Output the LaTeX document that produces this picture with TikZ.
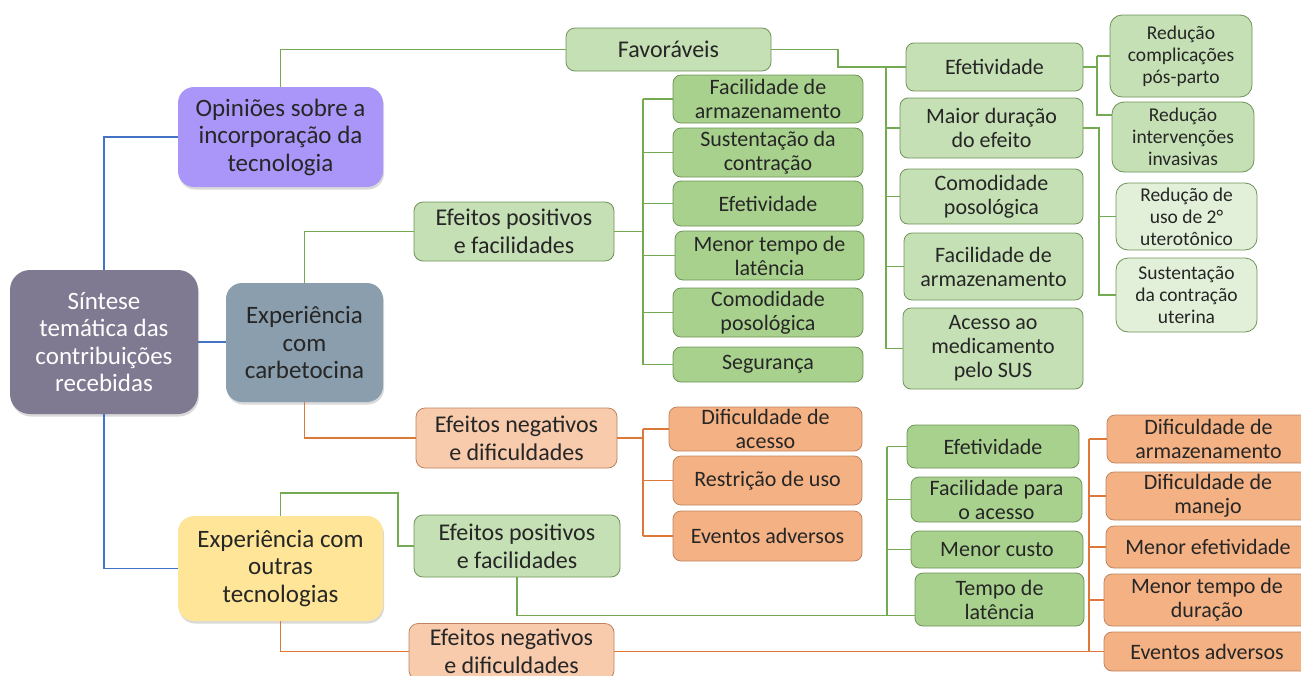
\documentclass[tikz,border=0pt]{standalone}
\usepackage{fontspec}
\setmainfont{Carlito}
\usepackage{xcolor}
\usepackage{tikz}
\usetikzlibrary{shadows}

\definecolor{rootfill}{HTML}{7F7A91}
\definecolor{opinfill}{HTML}{AA96F9}
\definecolor{carbfill}{HTML}{8A9EAD}
\definecolor{outrfill}{HTML}{FFE597}
\definecolor{lgreen}{HTML}{C5E0B4}
\definecolor{mgreen}{HTML}{A9D18E}
\definecolor{pgreen}{HTML}{E2F0D9}
\definecolor{gborder}{HTML}{6E9257}
\definecolor{lorange}{HTML}{F8CBAD}
\definecolor{morange}{HTML}{F4B183}
\definecolor{oborder}{HTML}{BE8460}
\definecolor{bline}{HTML}{4472C4}
\definecolor{gline}{HTML}{74AA52}
\definecolor{oline}{HTML}{DC7838}
\definecolor{txt}{HTML}{262626}

\tikzset{
	base/.style={align=center, inner sep=0pt, text=txt},
	topbox/.style={base, rounded corners=16pt, font=\fontsize{25}{27.5}\selectfont,
		drop shadow={opacity=0.3, shadow xshift=1pt, shadow yshift=-2.5pt}},
	midbox/.style={base, line width=0.8pt, rounded corners=9pt, font=\fontsize{24}{28}\selectfont},
	leafbox/.style={base, line width=0.8pt, rounded corners=8pt, font=\fontsize{22}{24}\selectfont},
	tipbox/.style={base, draw=gborder, line width=0.8pt, rounded corners=12pt, font=\fontsize{19.5}{22}\selectfont},
	gleaf/.style={leafbox, fill=mgreen, draw=gborder},
	oleaf/.style={leafbox, fill=morange, draw=oborder},
	wire/.style={line width=1.3pt, draw=#1},
}

\begin{document}
\begin{tikzpicture}[x=1pt, y=-1pt]
	\useasboundingbox (0,0) rectangle (1301,675);
	\clip (0,0) rectangle (1301,675);

	% main branches
	\node[topbox, fill=rootfill, text=white, rounded corners=20pt, minimum width=188pt, minimum height=144pt] (root) at (104,342) {Síntese\\temática das\\contribuições\\recebidas};
	\node[topbox, fill=opinfill, minimum width=205pt, minimum height=100pt] (opin) at (280.5,137) {Opiniões sobre a\\incorporação da\\tecnologia};
	\node[topbox, fill=carbfill, minimum width=157pt, minimum height=119pt] (carb) at (304.5,342.5) {Experiência\\com\\carbetocina};
	\node[topbox, fill=outrfill, minimum width=205pt, minimum height=105pt] (outr) at (280.5,568.5) {Experiência com\\outras\\tecnologias};

	% opinioes
	\node[midbox, fill=lgreen, draw=gborder, minimum width=205pt, minimum height=43pt] (fav) at (668.5,49.5) {Favoráveis};
	\node[leafbox, fill=lgreen, draw=gborder, minimum width=177pt, minimum height=48pt] (fav1) at (994.5,67) {Efetividade};
	\node[leafbox, fill=lgreen, draw=gborder, minimum width=183pt, minimum height=60pt] (fav2) at (991.5,128) {Maior duração\\do efeito};
	\node[leafbox, fill=lgreen, draw=gborder, minimum width=183pt, minimum height=55pt] (fav3) at (991.5,196.5) {Comodidade\\posológica};
	\node[leafbox, fill=lgreen, draw=gborder, minimum width=179pt, minimum height=67pt] (fav4) at (993.5,266.5) {Facilidade de\\armazenamento};
	\node[leafbox, fill=lgreen, draw=gborder, minimum width=180pt, minimum height=81pt] (fav5) at (993,348.5) {Acesso ao\\medicamento\\pelo SUS};
	\node[tipbox, fill=lgreen, minimum width=142pt, minimum height=82pt] (eff1) at (1181,56) {Redução\\complicações\\pós-parto};
	\node[tipbox, fill=lgreen, minimum width=142pt, minimum height=70pt] (eff2) at (1183,137) {Redução\\intervenções\\invasivas};
	\node[tipbox, fill=pgreen, minimum width=141pt, minimum height=67pt] (dur1) at (1186.5,216.5) {Redução de\\uso de 2°\\uterotônico};
	\node[tipbox, fill=pgreen, minimum width=141pt, minimum height=74pt] (dur2) at (1186.5,295) {Sustentação\\da contração\\uterina};

	% carbetocina
	\node[midbox, fill=lgreen, draw=gborder, minimum width=200pt, minimum height=59pt] (cpos) at (514,231.5) {Efeitos positivos\\e facilidades};
	\node[gleaf, minimum width=190pt, minimum height=48pt] (cp1) at (768,99) {Facilidade de\\armazenamento};
	\node[gleaf, minimum width=190pt, minimum height=49pt] (cp2) at (768,152.5) {Sustentação da\\contração};
	\node[gleaf, minimum width=190pt, minimum height=45pt] (cp3) at (768,203.5) {Efetividade};
	\node[gleaf, minimum width=189pt, minimum height=49pt] (cp4) at (769.5,255.5) {Menor tempo de\\latência};
	\node[gleaf, minimum width=190pt, minimum height=49pt] (cp5) at (768,312.5) {Comodidade\\posológica};
	\node[gleaf, minimum width=190pt, minimum height=35pt] (cp6) at (768,364.5) {Segurança};
	\node[midbox, fill=lorange, draw=oborder, minimum width=201pt, minimum height=60pt] (cneg) at (516.5,438) {Efeitos negativos\\e dificuldades};
	\node[oleaf, minimum width=193pt, minimum height=44pt] (cn1) at (765.5,429) {Dificuldade de\\acesso};
	\node[oleaf, minimum width=189pt, minimum height=49pt] (cn2) at (767.5,480.5) {Restrição de uso};
	\node[oleaf, minimum width=189pt, minimum height=50pt] (cn3) at (767.5,536) {Eventos adversos};

	% outras tecnologias
	\node[midbox, fill=lgreen, draw=gborder, minimum width=206pt, minimum height=62pt] (opos) at (517,546) {Efeitos positivos\\e facilidades};
	\node[gleaf, minimum width=172pt, minimum height=43pt] (op1) at (993,446.5) {Efetividade};
	\node[gleaf, minimum width=171pt, minimum height=45pt] (op2) at (996.5,499.5) {Facilidade para\\o acesso};
	\node[gleaf, minimum width=172pt, minimum height=37pt] (op3) at (997,549.5) {Menor custo};
	\node[gleaf, minimum width=169pt, minimum height=53pt] (op4) at (999.5,599.5) {Tempo de\\latência};
	\node[midbox, fill=lorange, draw=oborder, minimum width=205pt, minimum height=56pt] (oneg) at (511.5,651.5) {Efeitos negativos\\e dificuldades};
	\node[oleaf, minimum width=203pt, minimum height=48pt] (on1) at (1208.5,439) {Dificuldade de\\armazenamento};
	\node[oleaf, minimum width=204pt, minimum height=48pt] (on2) at (1208,496) {Dificuldade de\\manejo};
	\node[oleaf, minimum width=204pt, minimum height=42pt] (on3) at (1208,547) {Menor efetividade};
	\node[oleaf, minimum width=206pt, minimum height=52pt] (on4) at (1207,600) {Menor tempo de\\duração};
	\node[oleaf, minimum width=206pt, minimum height=39pt] (on5) at (1207,651.5) {Eventos adversos};

	% bus positions
	\coordinate (favturn) at (838,0);
	\coordinate (busA) at (886,0);
	\coordinate (busB) at (1097,0);
	\coordinate (busC) at (1099,0);
	\coordinate (busD) at (643,0);
	\coordinate (busE) at (887,0);
	\coordinate (busF) at (1089,0);
	\coordinate (oposkink) at (398,493);
	\coordinate (oplow) at ([yshift=-16pt]op4.west);

	% connectors
	\draw[wire=bline] (root.north) |- (opin.west);
	\draw[wire=bline] (root.east) -- (root.east -| carb.west);
	\draw[wire=bline] (root.south) |- (outr.west);

	\draw[wire=gline] (opin.north) |- (fav.west);
	\draw[wire=gline] (fav.east) -| (favturn |- fav1.west) -- (fav1.west);
	\draw[wire=gline] (busA |- fav1.west) -- (busA |- fav5.west);
	\foreach \n in {fav2,fav3,fav4,fav5}
		\draw[wire=gline] (busA |- \n.west) -- (\n.west);
	\draw[wire=gline] (fav1.east) -- (busB |- fav1.east);
	\draw[wire=gline] (busB |- eff1.west) -- (eff1.west);
	\draw[wire=gline] (busB |- eff1.west) |- ([yshift=22pt]eff2.west);
	\draw[wire=gline] (fav2.east) -| (busC |- dur2.west) -- (dur2.west);
	\draw[wire=gline] (busC |- dur1.west) -- (dur1.west);

	\draw[wire=gline] (carb.north) |- (cpos.west);
	\draw[wire=gline] (cpos.east) -- (busD |- cpos.east);
	\draw[wire=gline] (busD |- cp1.west) -- (busD |- cp6.west);
	\foreach \n in {cp1,cp2,cp3,cp4,cp5,cp6}
		\draw[wire=gline] (busD |- \n.west) -- (\n.west);

	\draw[wire=oline] (carb.south) |- (cneg.west);
	\draw[wire=oline] (cneg.east) -- (busD |- cneg.east);
	\draw[wire=oline] (busD |- cn1.west) -- (busD |- cn3.west);
	\foreach \n in {cn1,cn2,cn3}
		\draw[wire=oline] (busD |- \n.west) -- (\n.west);

	\draw[wire=gline] (outr.north) |- (oposkink) |- (opos.west);
	\draw[wire=gline] (opos.south) |- (oplow);
	\draw[wire=gline] (busE |- op1.west) -- (busE |- oplow);
	\foreach \n in {op1,op2,op3}
		\draw[wire=gline] (busE |- \n.west) -- (\n.west);

	\draw[wire=oline] (outr.south) |- (oneg.west);
	\draw[wire=oline] (oneg.east) -- (on5.west);
	\draw[wire=oline] (busF |- on1.west) -- (busF |- on5.west);
	\foreach \n in {on1,on2,on3,on4}
		\draw[wire=oline] (busF |- \n.west) -- (\n.west);
\end{tikzpicture}
\end{document}
